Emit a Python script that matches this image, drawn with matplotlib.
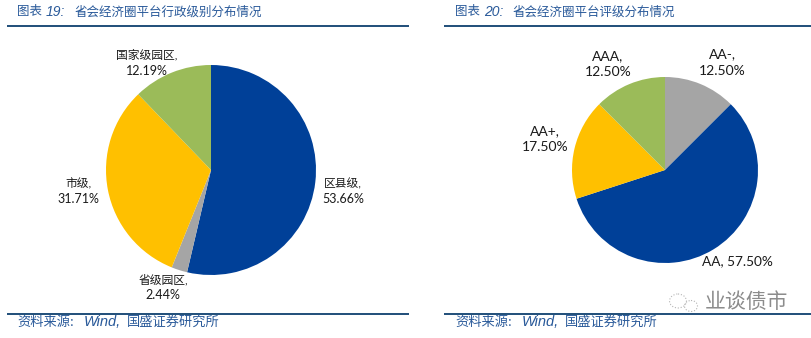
import matplotlib
matplotlib.use("Agg")
import matplotlib.pyplot as plt
from matplotlib.patches import Ellipse

plt.rcParams['font.family'] = ['Noto Sans CJK SC', 'DejaVu Sans']

W, H = 812, 338

# Left pie: administrative level
left_names = ["区县级,", "省级园区,", "市级,", "国家级园区,"]
left_values = [53.66, 2.44, 31.71, 12.19]
left_colors = ["#004098", "#A5A5A5", "#FFC000", "#9BBB59"]
left_title = "省会经济圈平台行政级别分布情况"

# Right pie: credit rating
right_names = ["AA-,", "AA,", "AA+,", "AAA,"]
right_values = [12.50, 57.50, 17.50, 12.50]
right_colors = ["#A5A5A5", "#004098", "#FFC000", "#9BBB59"]
right_title = "省会经济圈平台评级分布情况"

fig = plt.figure(figsize=(W / 100, H / 100), dpi=100, facecolor="white")

# Overlay in pixel coordinates for the titles, rules and labels
bg = fig.add_axes([0, 0, 1, 1])
bg.set_xlim(0, W)
bg.set_ylim(H, 0)
bg.axis("off")


def draw_pie(cx, cy, r, values, colors):
    ax = fig.add_axes([(cx - r) / W, 1 - (cy + r) / H, 2 * r / W, 2 * r / H])
    ax.pie(values, colors=colors, startangle=90, counterclock=False, radius=1.0,
           wedgeprops={"linewidth": 0})
    ax.set_xlim(-1, 1)
    ax.set_ylim(-1, 1)


draw_pie(211, 170, 105, left_values, left_colors)
draw_pie(665, 170, 93, right_values, right_colors)

navy = "#1F4E79"
text_blue = "#2A5A9A"
latin = ["Liberation Sans"]
label_font = ["Lato", "Noto Sans CJK SC"]

# Header and footer rules
for x0, x1 in [(7, 409), (444, 812)]:
    bg.plot([x0, x1], [26, 26], color=navy, lw=1.4, solid_capstyle="butt")
    bg.plot([x0, x1], [313.5, 313.5], color=navy, lw=1.4, solid_capstyle="butt")


def header(x, number, title):
    bg.text(x, 12, "图表", fontsize=9, color=text_blue, va="center")
    bg.text(x + 29, 12, number, fontsize=10, color=text_blue, style="italic", family=latin, va="center")
    bg.text(x + 58, 12, title, fontsize=9, color=text_blue, va="center")


def footer(x):
    bg.text(x, 322, "资料来源:", fontsize=9.5, color=text_blue, va="center")
    bg.text(x + 67, 322, "Wind,", fontsize=10.5, color=text_blue, style="italic", family=latin, va="center")
    bg.text(x + 110, 322, "国盛证券研究所", fontsize=9.5, color=text_blue, va="center")


header(17, "19:", left_title)
header(455, "20:", right_title)
footer(17)
footer(455)

# Slice labels: name line and value line
left_pos = [(343, 184, 199), (163, 280, 295), (78, 184, 199), (147, 55, 71)]
for (x, y0, y1), name, val in zip(left_pos, left_names, left_values):
    bg.text(x, y0, name, fontsize=8.5, color="#1a1a1a", ha="center", va="center", family=label_font)
    bg.text(x, y1, f"{val:.2f}%", fontsize=9, color="#1a1a1a", ha="center", va="center", family=label_font)

right_pos = [(722, 54, 71), (608, 56, 72), (545, 131, 147)]
for (x, y0, y1), name, val in zip(right_pos, [right_names[0], right_names[3], right_names[2]],
                                  [right_values[0], right_values[3], right_values[2]]):
    bg.text(x, y0, name, fontsize=10, color="#1a1a1a", ha="center", va="center", family=label_font)
    bg.text(x, y1, f"{val:.2f}%", fontsize=10, color="#1a1a1a", ha="center", va="center", family=label_font)
bg.text(737, 261, f"{right_names[1]} {right_values[1]:.2f}%", fontsize=9.8, color="#1a1a1a",
        ha="center", va="center", family=label_font)

# Watermark
bg.text(705, 302, "业谈债市", fontsize=15, color="#8c8c8c", va="center")
bg.add_patch(Ellipse((678, 301), 17, 14, fill=False, ec="#b5b5b5", lw=0.8, ls=":"))
bg.add_patch(Ellipse((691, 306), 13, 11, fill=False, ec="#b5b5b5", lw=0.8, ls=":"))

fig.savefig("out.png", dpi=100, facecolor="white")
